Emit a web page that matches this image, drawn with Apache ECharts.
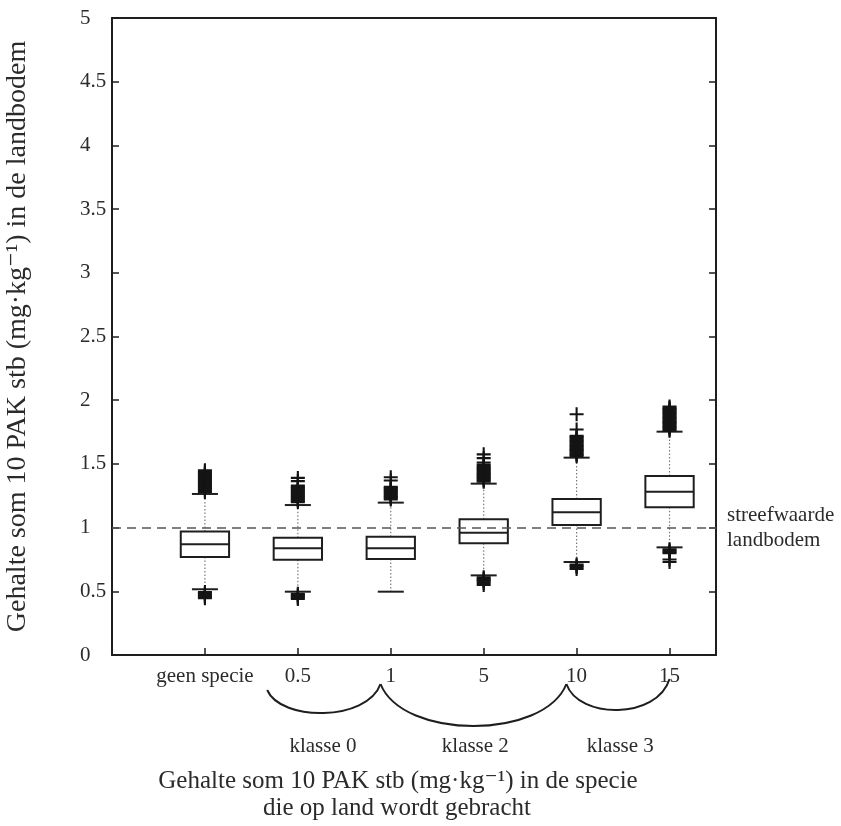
<!DOCTYPE html>
<html>
<head>
<meta charset="utf-8">
<script src="https://cdn.jsdelivr.net/npm/echarts@6/dist/echarts.min.js"></script>
<style>
html,body{margin:0;padding:0;background:#fff;}
#chart{width:841px;height:826px;}
</style>
</head>
<body>
<div id="chart"></div>
<script>
// ---- data ----
const categories = ['geen specie', '0.5', '1', '5', '10', '15'];
const whiskerLow  = [0.516, 0.497, 0.497, 0.625, 0.730, 0.845];
const q1          = [0.770, 0.748, 0.754, 0.877, 1.020, 1.160];
const median      = [0.870, 0.837, 0.837, 0.960, 1.120, 1.282];
const q3          = [0.970, 0.921, 0.929, 1.065, 1.224, 1.405];
const whiskerHigh = [1.264, 1.177, 1.196, 1.345, 1.549, 1.753];
const outliers = [
  [1.28,1.29,1.30,1.31,1.32,1.33,1.34,1.35,1.36,1.37,1.38,1.39,1.40,1.41,1.42,1.43,1.44,1.45,
   0.495,0.485,0.475,0.465,0.455,0.445],
  [1.20,1.21,1.22,1.23,1.24,1.25,1.26,1.27,1.28,1.29,1.30,1.31,1.32,1.33,1.365,1.39,
   0.48,0.47,0.46,0.45,0.44],
  [1.22,1.23,1.24,1.25,1.26,1.27,1.28,1.29,1.30,1.31,1.32,1.37,1.395],
  [1.36,1.37,1.38,1.39,1.40,1.41,1.42,1.43,1.44,1.45,1.46,1.47,1.48,1.49,1.51,1.545,1.575,
   0.61,0.60,0.59,0.58,0.565,0.55],
  [1.56,1.57,1.58,1.59,1.60,1.61,1.62,1.63,1.64,1.65,1.66,1.67,1.68,1.69,1.70,1.71,1.72,1.77,1.89,
   0.71,0.70,0.69,0.675],
  [1.76,1.77,1.78,1.79,1.80,1.81,1.82,1.83,1.84,1.85,1.86,1.87,1.88,1.89,1.90,1.91,1.92,1.93,1.94,1.95,
   0.83,0.82,0.81,0.80,0.75,0.73]
];
const referenceValue = 1;
const referenceLabel = 'streefwaarde\nlandbodem';
const classLabels = ['klasse 0', 'klasse 2', 'klasse 3'];
const yTitle = 'Gehalte som 10 PAK stb (mg·kg⁻¹) in de landbodem';
const xTitle1 = 'Gehalte som 10 PAK stb (mg·kg⁻¹) in de specie';
const xTitle2 = 'die op land wordt gebracht';

// ---- chart ----
const FONT = '"Liberation Serif", "DejaVu Serif", serif';
const INK = '#1e1e1e';
const TXT = '#2b2b2b';
const chart = echarts.init(document.getElementById('chart'), null, {renderer: 'canvas'});

const boxData = categories.map((c, i) => [i + 1, whiskerLow[i], q1[i], median[i], q3[i], whiskerHigh[i]]);
const outlierData = [];
outliers.forEach((arr, i) => arr.forEach(v => outlierData.push([i + 1, v])));
const tickPositions = categories.map((c, i) => i + 1);

function renderBox(params, api) {
  const x = api.value(0);
  const unit = api.size([1, 0])[0];
  const bw = unit * 0.52, cw = unit * 0.28;
  const pLo = api.coord([x, api.value(1)]);
  const pQ1 = api.coord([x, api.value(2)]);
  const pMd = api.coord([x, api.value(3)]);
  const pQ3 = api.coord([x, api.value(4)]);
  const pHi = api.coord([x, api.value(5)]);
  const cx = pMd[0];
  const dotted = {stroke: '#7a7a7a', lineWidth: 1.2, lineDash: [1.5, 2]};
  const solid = {stroke: INK, lineWidth: 2};
  return {
    type: 'group',
    children: [
      {type: 'line', shape: {x1: cx, y1: pQ3[1], x2: cx, y2: pHi[1]}, style: dotted},
      {type: 'line', shape: {x1: cx, y1: pQ1[1], x2: cx, y2: pLo[1]}, style: dotted},
      {type: 'line', shape: {x1: cx - cw / 2, y1: pHi[1], x2: cx + cw / 2, y2: pHi[1]}, style: solid},
      {type: 'line', shape: {x1: cx - cw / 2, y1: pLo[1], x2: cx + cw / 2, y2: pLo[1]}, style: solid},
      {type: 'rect', shape: {x: cx - bw / 2, y: pQ3[1], width: bw, height: pQ1[1] - pQ3[1]},
        style: {fill: 'rgba(255,255,255,0)', stroke: INK, lineWidth: 2}},
      {type: 'line', shape: {x1: cx - bw / 2, y1: pMd[1], x2: cx + bw / 2, y2: pMd[1]}, style: solid}
    ]
  };
}

const plusPath = 'path://M4.25,0H5.75V4.25H10V5.75H5.75V10H4.25V5.75H0V4.25H4.25Z';

const option = {
  animation: false,
  backgroundColor: '#ffffff',
  grid: {left: 112, right: 125, top: 18, bottom: 171, outerBoundsMode: 'none', containLabel: false},
  xAxis: [{
    type: 'value', min: 0, max: 6.5, position: 'bottom',
    splitLine: {show: false},
    axisLine: {show: true, onZero: false, lineStyle: {color: INK, width: 2}},
    axisTick: {show: true, inside: true, length: 7, customValues: tickPositions, lineStyle: {color: INK, width: 1.5}},
    axisLabel: {show: true, customValues: tickPositions, margin: 11,
      formatter: v => categories[Math.round(v) - 1] || '',
      fontFamily: FONT, fontSize: 21, color: TXT}
  }, {
    type: 'value', min: 0, max: 6.5, position: 'top',
    splitLine: {show: false},
    axisLine: {show: true, onZero: false, lineStyle: {color: INK, width: 2}},
    axisTick: {show: false}, axisLabel: {show: false}
  }],
  yAxis: [{
    type: 'value', min: 0, max: 5, interval: 0.5, position: 'left',
    splitLine: {show: false},
    axisLine: {show: true, onZero: false, lineStyle: {color: INK, width: 2}},
    axisTick: {show: true, inside: true, length: 7, lineStyle: {color: INK, width: 1.5}},
    axisLabel: {margin: 32, align: 'left', fontFamily: FONT, fontSize: 21, color: TXT},
    name: yTitle, nameLocation: 'middle', nameGap: 80, nameRotate: 90,
    nameTextStyle: {fontFamily: FONT, fontSize: 28, color: TXT}
  }, {
    type: 'value', min: 0, max: 5, interval: 0.5, position: 'right',
    splitLine: {show: false},
    axisLine: {show: true, onZero: false, lineStyle: {color: INK, width: 2}},
    axisTick: {show: true, inside: true, length: 7, lineStyle: {color: INK, width: 1.5}},
    axisLabel: {show: false}
  }],
  series: [{
    type: 'custom',
    silent: true,
    renderItem: renderBox,
    encode: {x: 0, y: [1, 2, 3, 4, 5]},
    data: boxData,
    z: 3,
    markLine: {
      silent: true,
      symbol: ['none', 'none'],
      lineStyle: {color: '#555', width: 1.6, type: [9, 6]},
      label: {show: true, position: 'end', distance: 11, formatter: referenceLabel,
        fontFamily: FONT, fontSize: 21, color: TXT, lineHeight: 25, align: 'left',
        padding: [0, 0, 6, 0]},
      data: [{yAxis: referenceValue}]
    }
  }, {
    type: 'scatter',
    silent: true,
    symbol: plusPath,
    symbolSize: 14,
    itemStyle: {color: '#141414', opacity: 1},
    data: outlierData,
    z: 4
  }]
};
chart.setOption(option);

// ---- annotation arcs and titles below the axis ----
function px(v) { return chart.convertToPixel({xAxisIndex: 0}, v); }
function arc(x0, y0, x1, y1, depth) {
  const w = x1 - x0;
  const c = (8 * depth - y0 - y1) / 6;
  return {type: 'bezierCurve', silent: true,
    shape: {x1: x0, y1: y0, x2: x1, y2: y1, cpx1: x0 + w * 0.12, cpy1: c, cpx2: x1 - w * 0.12, cpy2: c},
    style: {stroke: INK, lineWidth: 2, fill: null}};
}
const arcStops = [1.67, 2.89, 4.89, 6.0];
const arcYs = [690, 684, 684, 679];
const arcDepth = [713, 726, 710];
const graphics = [];
for (let k = 0; k < 3; k++) {
  graphics.push(arc(px(arcStops[k]), arcYs[k], px(arcStops[k + 1]), arcYs[k + 1], arcDepth[k]));
}
const classCenters = [2.27, 3.91, 5.47];
classLabels.forEach((t, k) => {
  graphics.push({type: 'text', silent: true, x: px(classCenters[k]), y: 746,
    style: {text: t, fontFamily: FONT, fontSize: 21, fill: TXT, align: 'center', verticalAlign: 'middle'}});
});
graphics.push({type: 'text', silent: true, x: 398, y: 781,
  style: {text: xTitle1, fontFamily: FONT, fontSize: 25, fill: TXT, align: 'center', verticalAlign: 'middle'}});
graphics.push({type: 'text', silent: true, x: 397, y: 808,
  style: {text: xTitle2, fontFamily: FONT, fontSize: 25, fill: TXT, align: 'center', verticalAlign: 'middle'}});
chart.setOption({graphic: graphics});
</script>
</body>
</html>
